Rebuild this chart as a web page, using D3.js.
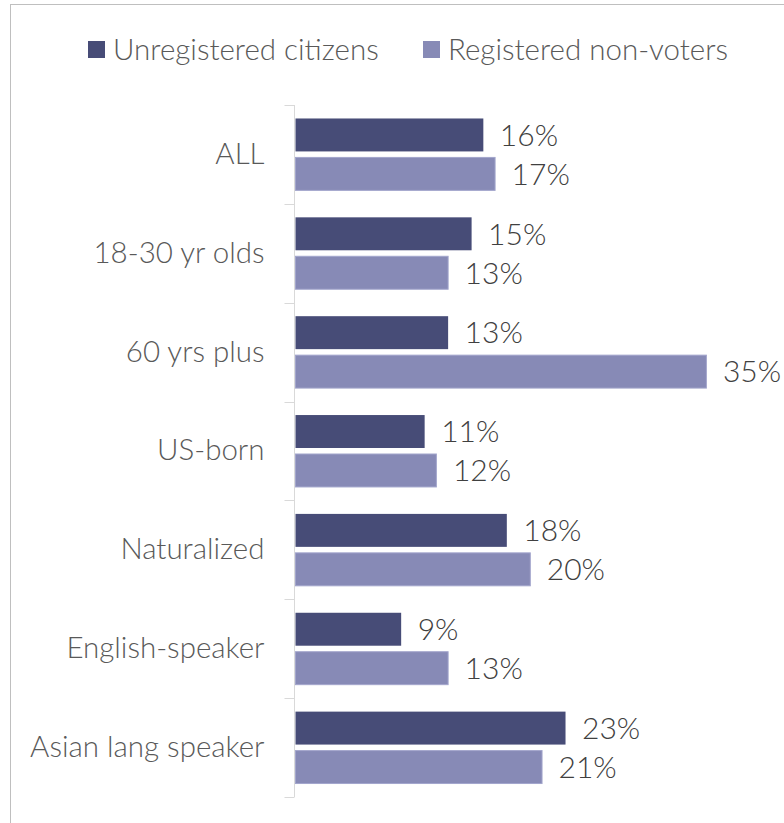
<!DOCTYPE html>
<html>
<head>
<meta charset="utf-8">
<script src="https://cdn.jsdelivr.net/npm/d3@7"></script>
<style>
  html, body { margin: 0; padding: 0; background: #fff; }
  svg { display: block; }
  text { font-family: Lato, "Open Sans", sans-serif; font-weight: 300; }
</style>
</head>
<body>
<svg id="chart" width="784" height="823"></svg>
<script>
// Share of each group, by voter status
const categories = ["ALL", "18-30 yr olds", "60 yrs plus", "US-born", "Naturalized", "English-speaker", "Asian lang speaker"];
const seriesNames = ["Unregistered citizens", "Registered non-voters"];
const unregistered = [0.16, 0.15, 0.13, 0.11, 0.18, 0.09, 0.23];
const registeredNonVoters = [0.17, 0.13, 0.35, 0.12, 0.20, 0.13, 0.21];
const seriesColors = ["#474c77", "#878ab6"];

const seriesValues = [unregistered, registeredNonVoters];
const rows = categories.map((c, i) => ({
  category: c,
  values: seriesNames.map((s, j) => ({ series: s, value: seriesValues[j][i], idx: j }))
}));

const svg = d3.select("#chart");

// chart frame
svg.append("rect")
  .attr("x", 10.5).attr("y", 4.5)
  .attr("width", 900).attr("height", 900)
  .attr("fill", "none").attr("stroke", "#bfbfbf").attr("stroke-width", 1);

const x = d3.scaleLinear().domain([0, 0.40]).range([295, 764.6]);
const y0 = d3.scaleBand().domain(categories).range([105, 797]).paddingInner(0).paddingOuter(0);
const y1 = d3.scaleBand().domain(seriesNames).range([0, y0.bandwidth()])
  .paddingInner(0.154).paddingOuter(0.346);
const color = d3.scaleOrdinal().domain(seriesNames).range(seriesColors);

// category axis
const axis = d3.axisLeft(y0).tickSize(0).tickPadding(30).tickSizeOuter(0);
const axisG = svg.append("g").attr("transform", "translate(294.5,0)").call(axis);
axisG.select(".domain").attr("stroke", "#d9d9d9").attr("d", `M0,${y0.range()[0]}V${y0.range()[1]}`);
axisG.selectAll(".tick text")
  .attr("fill", "#595959").attr("font-size", 29.5).attr("font-family", "Lato, 'Open Sans', sans-serif")
  .attr("font-weight", 300);
// tick marks at band boundaries
const bounds = categories.map(c => y0(c)).concat([y0.range()[1]]);
axisG.selectAll(".bound").data(bounds).enter().append("line")
  .attr("class", "bound")
  .attr("x1", -10).attr("x2", 0)
  .attr("y1", d => Math.round(d) + 0.5).attr("y2", d => Math.round(d) + 0.5)
  .attr("stroke", "#d9d9d9");

// bars
const groups = svg.append("g").selectAll("g").data(rows).enter().append("g")
  .attr("transform", d => `translate(0,${y0(d.category)})`);

groups.selectAll("rect").data(d => d.values).enter().append("rect")
  .attr("x", x(0) + 0.5)
  .attr("y", d => y1(d.series))
  .attr("width", d => x(d.value) - x(0))
  .attr("height", y1.bandwidth())
  .attr("fill", d => color(d.series))
  .attr("stroke", d => d.idx === 1 ? "#a3a6cc" : "none")
  .attr("stroke-width", 1);

groups.selectAll("text.val").data(d => d.values).enter().append("text")
  .attr("class", "val")
  .attr("x", d => x(d.value) + 17)
  .attr("y", d => y1(d.series) + y1.bandwidth() / 2)
  .attr("dy", "0.36em")
  .attr("fill", "#404040")
  .attr("font-size", 30)
  .text(d => d3.format(".0%")(d.value));

// legend
const legendX = [88, 423];
const legend = svg.append("g").selectAll("g").data(seriesNames).enter().append("g")
  .attr("transform", (d, i) => `translate(${legendX[i]},41)`);
legend.append("rect").attr("width", 17).attr("height", 17).attr("fill", d => color(d));
legend.append("text")
  .attr("x", 25).attr("y", 8.5).attr("dy", "0.36em")
  .attr("fill", "#595959").attr("font-size", 29.5)
  .text(d => d);
</script>
</body>
</html>
